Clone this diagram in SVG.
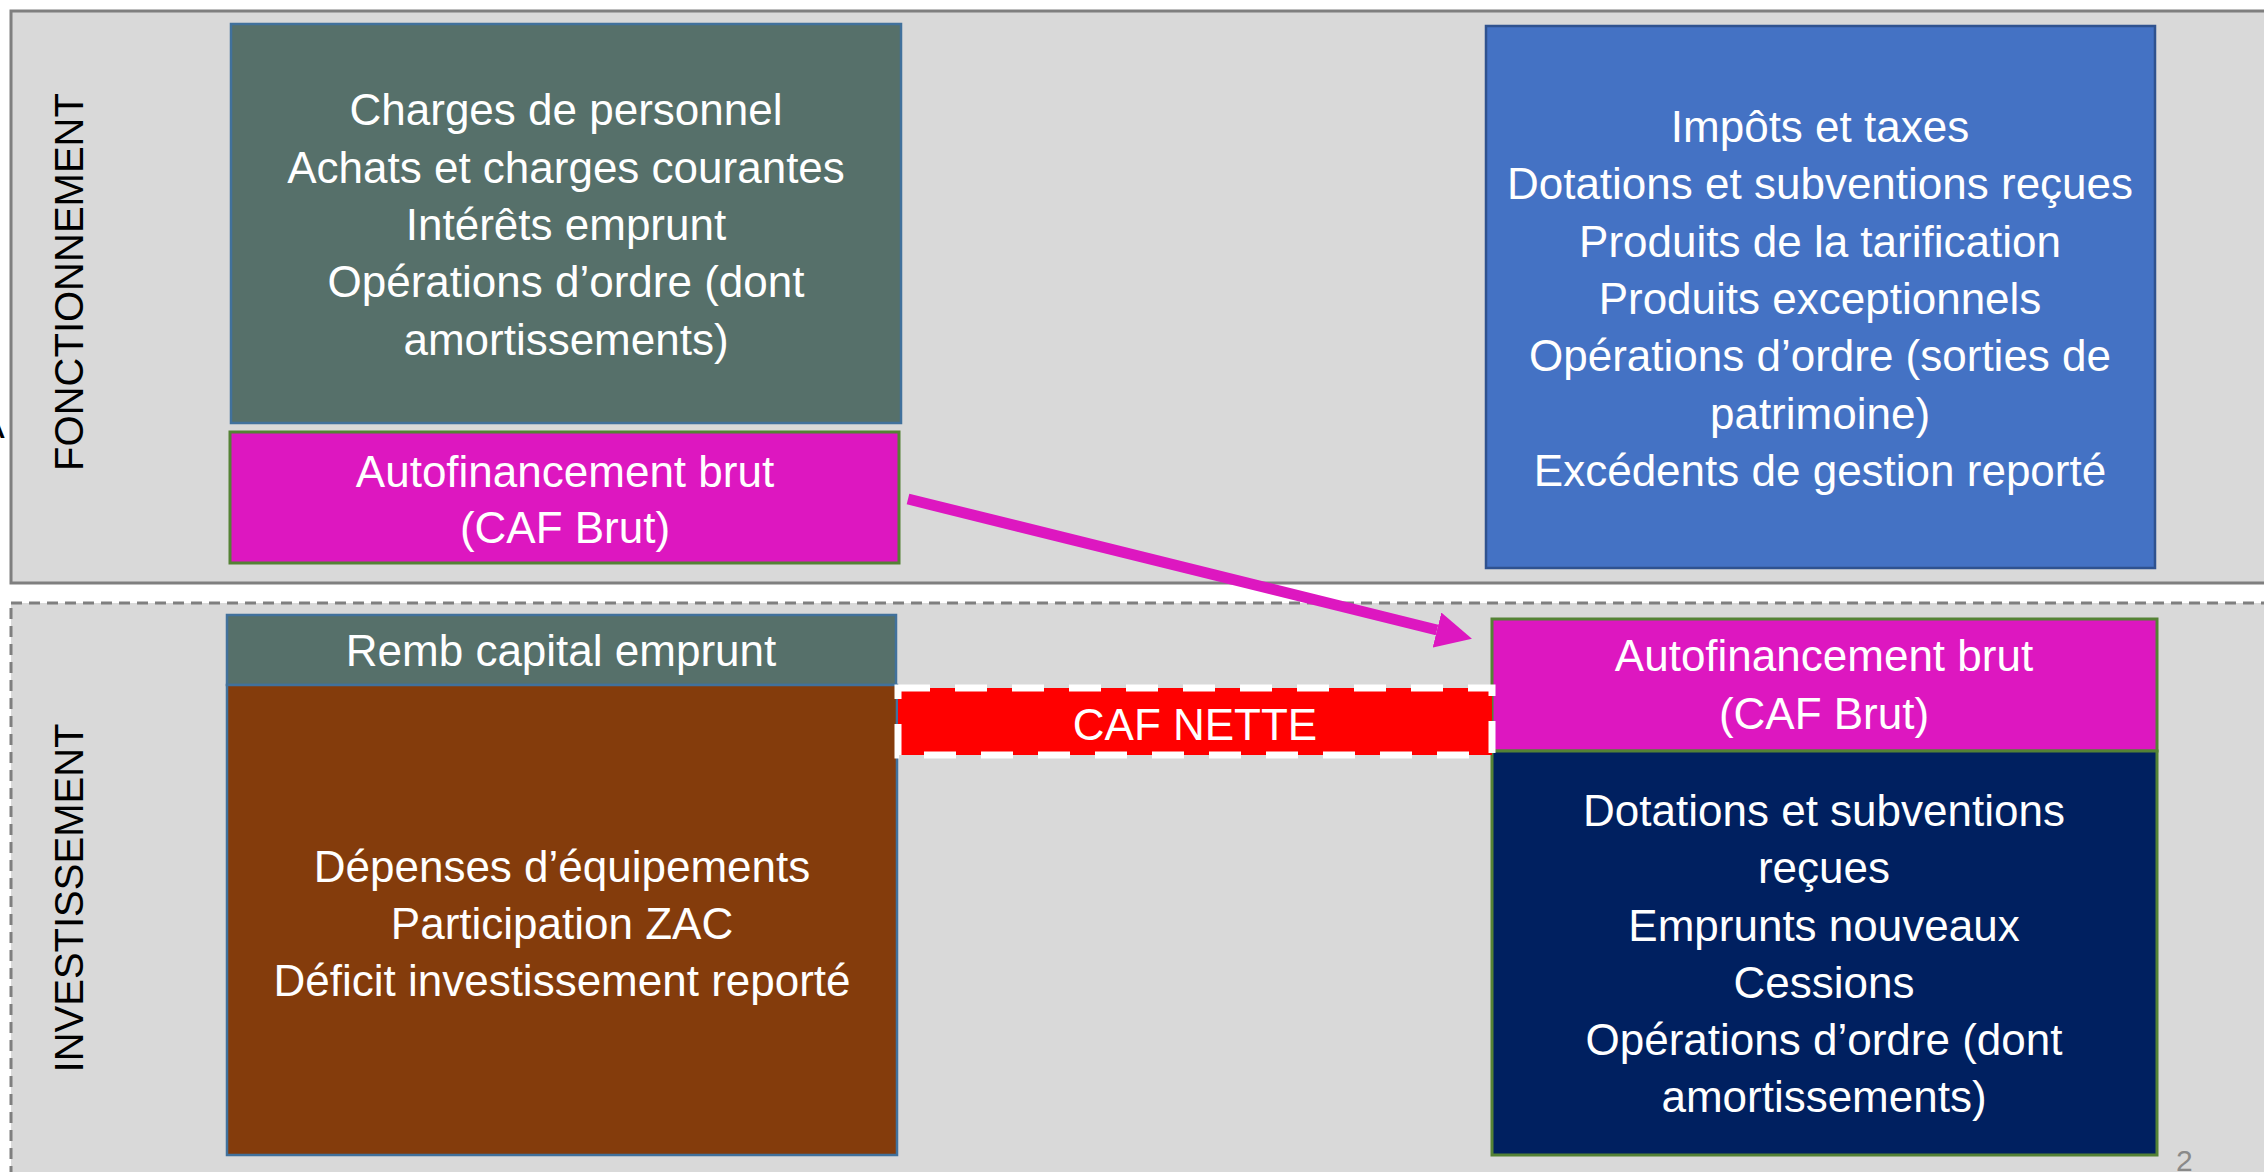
<svg xmlns="http://www.w3.org/2000/svg" width="2264" height="1172" viewBox="0 0 2264 1172">
  <style>
    .panel { fill: #D9D9D9; stroke: #7F7F7F; stroke-width: 3; }
    .panel-dash { stroke-dasharray: 11 7; }
    .side { font-family: "Liberation Sans", Arial, sans-serif; font-size: 40px; fill: #000000; text-anchor: middle; }
    .lbl { font-family: "Liberation Sans", Arial, sans-serif; font-size: 44px; fill: #FFFFFF; text-anchor: middle; }
    .b-blue { stroke: #41719C; stroke-width: 2.5; }
    .b-green { stroke: #548235; stroke-width: 3; }
    .teal { fill: #56706A; }
    .magenta { fill: #DD17C0; }
    .blue { fill: #4472C4; }
    .navy { fill: #002060; }
    .brown { fill: #843C0C; }
    .net { fill: #FF0000; stroke: #FFFFFF; stroke-width: 7; stroke-dasharray: 32 25; }
    .flow { stroke: #DD17C0; stroke-width: 11; fill: none; }
  </style>
  <defs>
    <marker id="head" markerUnits="userSpaceOnUse" markerWidth="36" markerHeight="36" viewBox="0 0 36 36" refX="0" refY="18" orient="auto">
      <path d="M0,0 L36,18 L0,36 z" fill="#DD17C0"/>
    </marker>
  </defs>

  <rect width="2264" height="1172" fill="#FFFFFF"/>

  <!-- operating section -->
  <g id="fonctionnement">
    <rect class="panel" x="11" y="11" width="2270" height="572"/>
    <text class="side" transform="translate(83,282) rotate(-90)">FONCTIONNEMENT</text>
    <text class="side" x="-22" y="438" style="text-anchor:start">A</text>
  </g>

  <!-- investment section -->
  <g id="investissement">
    <rect class="panel panel-dash" x="11" y="603" width="2270" height="600"/>
    <text class="side" transform="translate(83,898) rotate(-90)">INVESTISSEMENT</text>
  </g>

  <g id="charges">
    <rect class="teal b-blue" x="231" y="24" width="670" height="399"/>
    <text class="lbl" x="566" y="125">Charges de personnel</text>
    <text class="lbl" x="566" y="183">Achats et charges courantes</text>
    <text class="lbl" x="566" y="240">Intérêts emprunt</text>
    <text class="lbl" x="566" y="297">Opérations d’ordre (dont</text>
    <text class="lbl" x="566" y="355">amortissements)</text>
  </g>

  <g id="caf-brut-fonct">
    <rect class="magenta b-green" x="230" y="432" width="669" height="131"/>
    <text class="lbl" x="565" y="487">Autofinancement brut</text>
    <text class="lbl" x="565" y="543">(CAF Brut)</text>
  </g>

  <g id="recettes-fonct">
    <rect class="blue" x="1486" y="26" width="669" height="542" stroke="#2F528F" stroke-width="2.5"/>
    <text class="lbl" x="1820" y="142">Impôts et taxes</text>
    <text class="lbl" x="1820" y="199">Dotations et subventions reçues</text>
    <text class="lbl" x="1820" y="257">Produits de la tarification</text>
    <text class="lbl" x="1820" y="314">Produits exceptionnels</text>
    <text class="lbl" x="1820" y="371">Opérations d’ordre (sorties de</text>
    <text class="lbl" x="1820" y="429">patrimoine)</text>
    <text class="lbl" x="1820" y="486">Excédents de gestion reporté</text>
  </g>

  <g id="remb-capital">
    <rect class="teal b-blue" x="227" y="615" width="669" height="70"/>
    <text class="lbl" x="561" y="666">Remb capital emprunt</text>
  </g>

  <g id="depenses-invest">
    <rect class="brown b-blue" x="227" y="685" width="670" height="470"/>
    <text class="lbl" x="562" y="882">Dépenses d’équipements</text>
    <text class="lbl" x="562" y="939">Participation ZAC</text>
    <text class="lbl" x="562" y="996">Déficit investissement reporté</text>
  </g>

  <g id="caf-brut-invest">
    <rect class="magenta b-green" x="1492" y="619" width="665" height="132"/>
    <text class="lbl" x="1824" y="671">Autofinancement brut</text>
    <text class="lbl" x="1824" y="729">(CAF Brut)</text>
  </g>

  <g id="recettes-invest">
    <rect class="navy b-green" x="1492" y="751" width="665" height="404"/>
    <text class="lbl" x="1824" y="826">Dotations et subventions</text>
    <text class="lbl" x="1824" y="883">reçues</text>
    <text class="lbl" x="1824" y="941">Emprunts nouveaux</text>
    <text class="lbl" x="1824" y="998">Cessions</text>
    <text class="lbl" x="1824" y="1055">Opérations d’ordre (dont</text>
    <text class="lbl" x="1824" y="1112">amortissements)</text>
  </g>

  <g id="caf-nette">
    <rect class="net" x="898" y="688" width="594" height="67"/>
    <text class="lbl" x="1195" y="740">CAF NETTE</text>
  </g>

  <!-- transfer of gross self-financing into the investment section -->
  <g id="connectors">
    <line class="flow" x1="908" y1="499" x2="1437" y2="630" marker-end="url(#head)"/>
  </g>

  <text x="2176" y="1171" font-family="Liberation Sans, Arial, sans-serif" font-size="30" fill="#898989">2</text>
</svg>
